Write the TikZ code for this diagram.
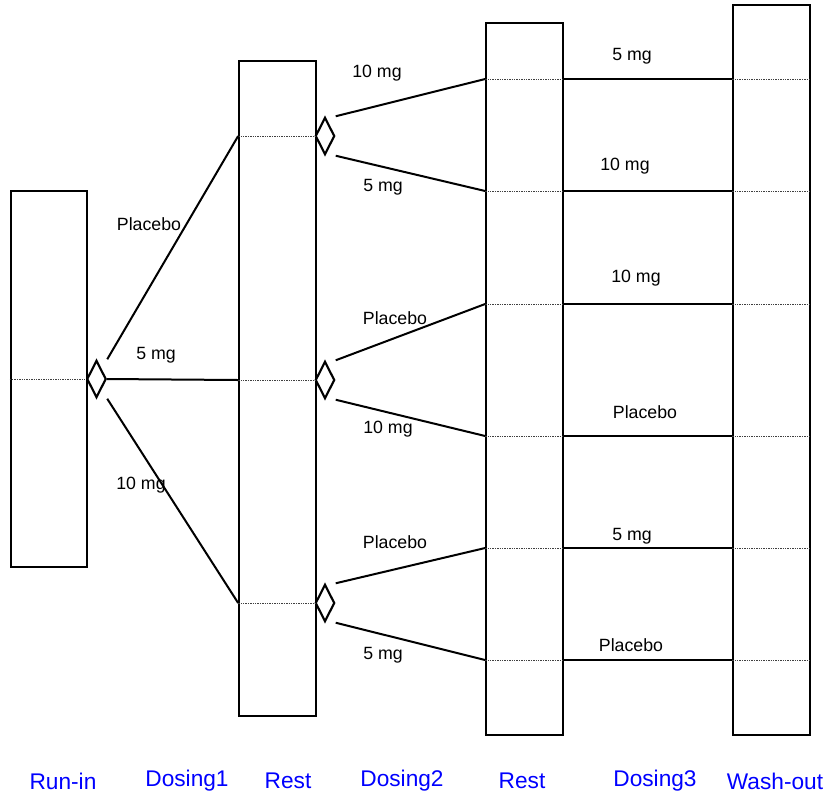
\documentclass[tikz,border=0pt]{standalone}
\usepackage{fontspec}
\setmainfont{Liberation Sans}
\usetikzlibrary{shapes.geometric}

\tikzset{every picture/.style={line width=0.75pt}}
\tikzset{
	phase/.style={draw, line width=1.5, inner sep=0pt, minimum width=57.5pt},
	split/.style={draw, shape=diamond, line width=1.6, inner sep=0pt, minimum width=14.5pt, minimum height=28pt},
	arm/.style={line width=1.5},
	level/.style={line width=0.75, draw=black!75, dash pattern=on 1pt off 0.8pt},
	dose/.style={font=\fontsize{13.3}{15}\selectfont},
	stage/.style={text=blue, font=\fontsize{17}{20}\selectfont}}

\begin{document}
\begin{tikzpicture}[x=0.75pt,y=0.75pt,yscale=-1,xscale=1]
	\useasboundingbox (0,0) rectangle (828,801);

	%Shape: Rectangle [id:runin] 
	\node [phase, minimum height=282pt] (r1) at (49,379) {};
	%Shape: Rectangle [id:rest1] 
	\node [phase, minimum height=491.25pt] (r2) at (277.5,388.5) {};
	%Shape: Rectangle [id:rest2] 
	\node [phase, minimum height=534pt] (r3) at (524.5,379) {};
	%Shape: Rectangle [id:washout] 
	\node [phase, minimum height=547.5pt] (r4) at (771.5,370) {};

	%Levels
	\coordinate (l1) at (0,79);
	\coordinate (l2) at (0,191);
	\coordinate (l3) at (0,304);
	\coordinate (l4) at (0,436);
	\coordinate (l5) at (0,548);
	\coordinate (l6) at (0,660);

	%Shape: Diamond [id:split1] 
	\node [split] (d1) at (96.5,379) {};
	%Shape: Diamond [id:split2] 
	\node [split] (d2) at (325,136) {};
	%Shape: Diamond [id:split3] 
	\node [split] (d3) at (325,380) {};
	%Shape: Diamond [id:split4] 
	\node [split] (d4) at (325,603) {};

	%Dotted Lines
	\draw [level] (r1.west |- d1) -- (d1.west) ;
	\foreach \d in {d2,d3,d4}
		\draw [level] (r2.west |- \d) -- (r2.east |- \d) ;
	\foreach \l in {l1,l2,l3,l4,l5,l6} {
		\draw [level] (r3.west |- \l) -- (r3.east |- \l) ;
		\draw [level] (r4.west |- \l) -- (r4.east |- \l) ;
	}

	%Straight Lines [id:dosing1] 
	\draw [arm] (d1.east |- d1.north) -- (r2.west |- d2) ;
	\draw [arm] (d1.east) -- (r2.west |- d3) ;
	\draw [arm] (d1.east |- d1.south) -- (r2.west |- d4) ;
	%Straight Lines [id:dosing2] 
	\draw [arm] (d2.east |- d2.north) -- (r3.west |- l1) ;
	\draw [arm] (d2.east |- d2.south) -- (r3.west |- l2) ;
	\draw [arm] (d3.east |- d3.north) -- (r3.west |- l3) ;
	\draw [arm] (d3.east |- d3.south) -- (r3.west |- l4) ;
	\draw [arm] (d4.east |- d4.north) -- (r3.west |- l5) ;
	\draw [arm] (d4.east |- d4.south) -- (r3.west |- l6) ;
	%Straight Lines [id:dosing3] 
	\foreach \l in {l1,l2,l3,l4,l5,l6}
		\draw [arm] (r3.east |- \l) -- (r4.west |- \l) ;

	% Text Node
	\node [dose] (t11) at (149,224) {Placebo};
	\node [dose] (t12) at (156,355) {5 mg};
	\node [dose] (t13) at (141,485) {10 mg};
	% Text Node
	\node [dose] (t21) at (377,73) {10 mg};
	\node [dose] (t22) at (383,187) {5 mg};
	\node [dose] (t23) at (395,318) {Placebo};
	\node [dose] (t24) at (388,429) {10 mg};
	\node [dose] (t25) at (395,542) {Placebo};
	\node [dose] (t26) at (383,655) {5 mg};
	% Text Node
	\node [dose] (t31) at (632,56) {5 mg};
	\node [dose] (t32) at (625,166) {10 mg};
	\node [dose] (t33) at (636,278) {10 mg};
	\node [dose] (t34) at (645,412) {Placebo};
	\node [dose] (t35) at (632,536) {5 mg};
	\node [dose] (t36) at (631,645) {Placebo};

	% Text Node
	\node [stage] (s1) at (63,781) {Run-in};
	\node [stage] (s2) at (187,781) {Dosing1};
	\node [stage] (s3) at (288,781) {Rest};
	\node [stage] (s4) at (402,781) {Dosing2};
	\node [stage] (s5) at (522,781) {Rest};
	\node [stage] (s6) at (655,781) {Dosing3};
	\node [stage] (s7) at (775,781) {Wash-out};

\end{tikzpicture}
\end{document}
